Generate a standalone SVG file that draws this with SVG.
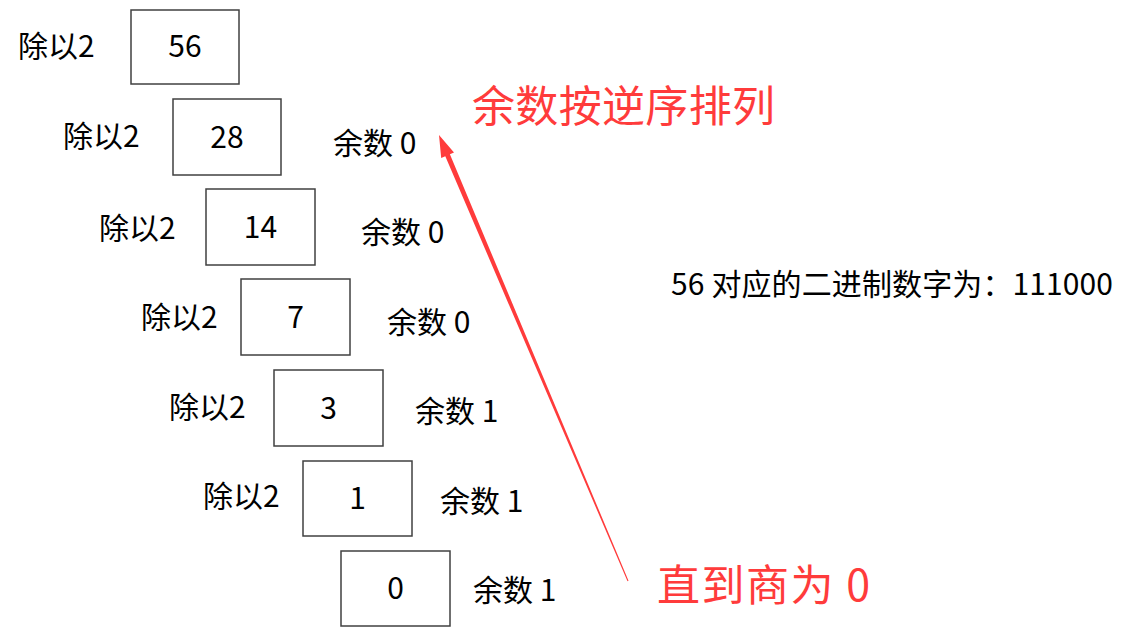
<svg xmlns="http://www.w3.org/2000/svg" width="1132" height="644" viewBox="0 0 1132 644">
<style>
text{font-family:"Microsoft YaHei","Noto Sans CJK SC","Noto Sans",sans-serif;fill:#000}
.lbl{font-size:30px}
.num{font-size:30px;text-anchor:middle}
.box{fill:#fff;stroke:#404040;stroke-width:1.5}
.red{font-size:43px;fill:#ff3b3b}
</style>
<rect width="1132" height="644" fill="#fff"/>
<g id="connectors">
<polygon points="439,135 454,152.6 449.9,154.3 628.5,580.8 627.5,581.2 445.3,156.3 441.2,158" fill="#ff3b3b"/>
</g>
<g id="n56"><rect class="box" x="131" y="10" width="108" height="74"/><text class="num" x="185" y="57">56</text><text class="lbl" x="18" y="57">除以2</text></g>
<g id="n28"><rect class="box" x="173" y="99" width="108" height="76"/><text class="num" x="227" y="148">28</text><text class="lbl" x="63" y="147">除以2</text><text class="lbl" x="333" y="154">余数 0</text></g>
<g id="n14"><rect class="box" x="206" y="189" width="109" height="76"/><text class="num" x="260.5" y="238">14</text><text class="lbl" x="99" y="239">除以2</text><text class="lbl" x="361" y="243">余数 0</text></g>
<g id="n7"><rect class="box" x="241" y="279" width="109" height="76"/><text class="num" x="295.5" y="328">7</text><text class="lbl" x="141" y="328">除以2</text><text class="lbl" x="387" y="333">余数 0</text></g>
<g id="n3"><rect class="box" x="274" y="370" width="109" height="76"/><text class="num" x="328.5" y="419">3</text><text class="lbl" x="169" y="418">除以2</text><text class="lbl" x="415" y="422">余数 1</text></g>
<g id="n1"><rect class="box" x="303" y="461" width="109" height="75"/><text class="num" x="357.5" y="509">1</text><text class="lbl" x="203" y="507">除以2</text><text class="lbl" x="440" y="512">余数 1</text></g>
<g id="n0"><rect class="box" x="341" y="551" width="109" height="75"/><text class="num" x="395.5" y="599">0</text><text class="lbl" x="473" y="601">余数 1</text></g>
<g id="title"><text class="red" x="472" y="122" textLength="303">余数按逆序排列</text></g>
<g id="note"><text class="red" x="657" y="601" textLength="213">直到商为 0</text></g>
<g id="result"><text class="lbl" x="671" y="295" textLength="442">56 对应的二进制数字为：111000</text></g>
</svg>
